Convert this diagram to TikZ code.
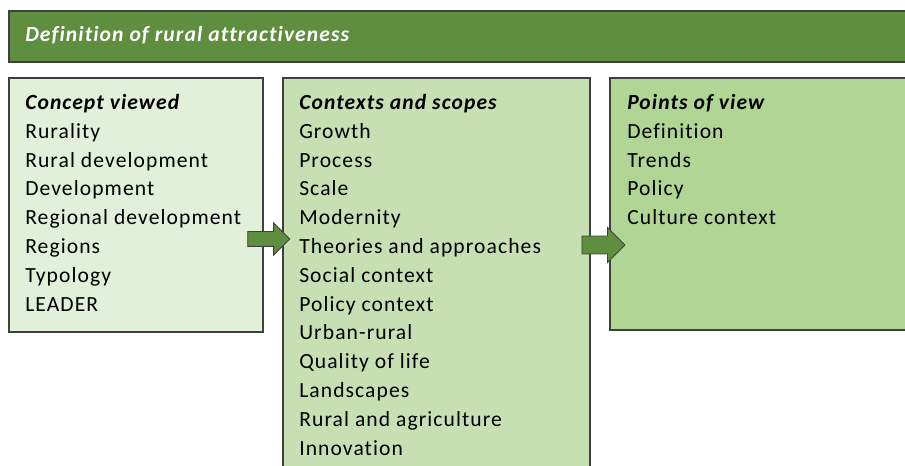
\documentclass[tikz,border=0pt]{standalone}
\usepackage{fontspec}
\setmainfont{Carlito}[LetterSpace=5, Ligatures=NoCommon]
\usetikzlibrary{shapes.arrows}

\definecolor{bannergreen}{RGB}{94,142,62}
\definecolor{paleA}{RGB}{226,239,217}
\definecolor{paleB}{RGB}{198,224,180}
\definecolor{paleC}{RGB}{176,213,148}
\definecolor{edgegray}{RGB}{64,64,64}

\tikzset{
  box/.style={draw=edgegray, line width=0.8pt},
  txt/.style={anchor=base west, inner sep=0pt, font=\fontsize{16.2}{18}\selectfont},
  head/.style={txt, font=\fontsize{16.2}{18}\selectfont\bfseries\itshape},
  blockarrow/.style={single arrow, draw=edgegray, fill=bannergreen, line width=0.6pt,
    minimum height=31.5pt, inner sep=5.25pt, single arrow head extend=6.5pt,
    single arrow tip angle=90}
}

\begin{document}
\begin{tikzpicture}[x=0.75pt,y=0.75pt,yscale=-1,xscale=1]
\useasboundingbox (0,0) rectangle (905,466);

%Shape: Rectangle (banner)
\draw [box, fill=bannergreen] (9,11) rectangle (912,62);
% Text Node
\draw (25,42) node [head, text=white] (title) {Definition of rural attractiveness};

%Shape: Rectangle (left)
\draw [box, fill=paleA] (9,78) rectangle (263,332);
%Shape: Rectangle (middle)
\draw [box, fill=paleB] (283,78) rectangle (590,472);
%Shape: Rectangle (right)
\draw [box, fill=paleC] (610,78) rectangle (912,330);

% Text Nodes: concept viewed
\draw (25,109.5) node [head] (cv) {Concept viewed};
\draw (25,138.3) node [txt] (cv1) {Rurality};
\draw (25,167.1) node [txt] (cv2) {Rural development};
\draw (25,195.9) node [txt] (cv3) {Development};
\draw (25,224.7) node [txt] (cv4) {Regional development};
\draw (25,253.5) node [txt] (cv5) {Regions};
\draw (25,282.3) node [txt] (cv6) {Typology};
\draw (25,311.1) node [txt] (cv7) {LEADER};

% Text Nodes: contexts and scopes
\draw (299,109.5) node [head] (cs) {Contexts and scopes};
\draw (299,138.3) node [txt] (cs1) {Growth};
\draw (299,167.1) node [txt] (cs2) {Process};
\draw (299,195.9) node [txt] (cs3) {Scale};
\draw (299,224.7) node [txt] (cs4) {Modernity};
\draw (299,253.5) node [txt] (cs5) {Theories and approaches};
\draw (299,282.3) node [txt] (cs6) {Social context};
\draw (299,311.1) node [txt] (cs7) {Policy context};
\draw (299,339.9) node [txt] (cs8) {Urban-rural};
\draw (299,368.7) node [txt] (cs9) {Quality of life};
\draw (299,397.5) node [txt] (cs10) {Landscapes};
\draw (299,426.3) node [txt] (cs11) {Rural and agriculture};
\draw (299,455.1) node [txt] (cs12) {Innovation};

% Text Nodes: points of view
\draw (627,109.5) node [head] (pv) {Points of view};
\draw (627,138.3) node [txt] (pv1) {Definition};
\draw (627,167.1) node [txt] (pv2) {Trends};
\draw (627,195.9) node [txt] (pv3) {Policy};
\draw (627,224.7) node [txt] (pv4) {Culture context};

%Block arrows between the boxes
\node [blockarrow] (arrA) at (265,239) {};
\node [blockarrow, minimum height=32.25pt, inner sep=6.4pt, single arrow head extend=6.4pt] (arrB) at (599,245) {};

\end{tikzpicture}
\end{document}
